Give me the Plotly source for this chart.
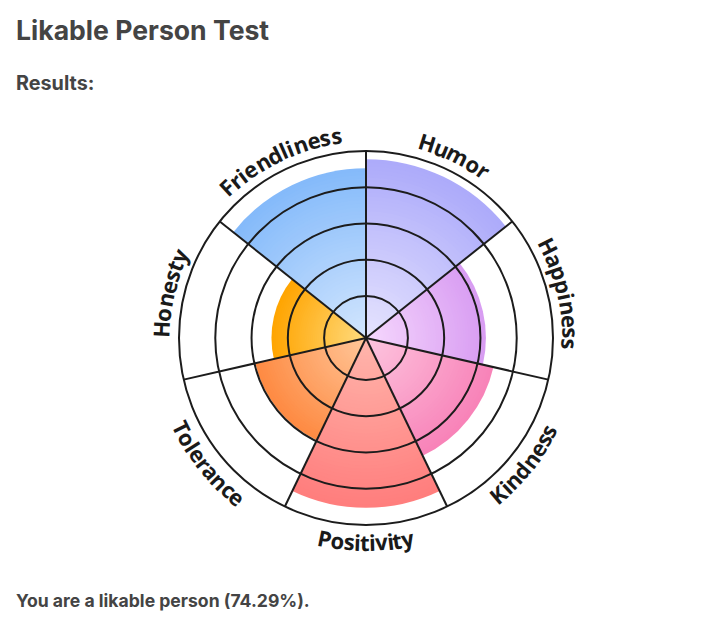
import math
import plotly.graph_objects as go

# ---------------- data ----------------
categories = ["Humor", "Happiness", "Kindness", "Positivity", "Tolerance", "Honesty", "Friendliness"]
scores = [95.5, 63, 69, 90.5, 59.5, 49, 90.5]
ring_ticks = [20, 40, 60, 80]
title_text = "Likable Person Test"
subtitle_text = "Results:"
result_text = "You are a likable person (74.29%)."

# ---------------- style ----------------
outer_colors = ["#acaafa", "#d89cf2", "#f882b8", "#ff7d7d", "#fe8a42", "#ffa400", "#84bafa"]
inner_colors = ["#e6e4fe", "#f6d8fd", "#fdc6df", "#ffb6ac", "#ffc79a", "#ffdb7e", "#d3e6fe"]
GRID = "#1c1c1c"
W, H = 702, 621
CX, CY, RAD = 366, 338, 187
R_MIN, R_MAX = -3.1, 100
N_STEPS = 48

n = len(categories)
step = 360.0 / n
centers = [step * (i + 0.5) for i in range(n)]
bounds = [step * i for i in range(n)]


def hex2rgb(h):
    h = h.lstrip("#")
    return [int(h[i:i + 2], 16) for i in (0, 2, 4)]


def mix(c1, c2, t):
    a, b = hex2rgb(c1), hex2rgb(c2)
    return "rgb(%d,%d,%d)" % tuple(round(a[i] + (b[i] - a[i]) * t) for i in range(3))


fig = go.Figure()

# gradient bars: overlaid wedges, largest first
for k in range(N_STEPS):
    frac = 1 - k / N_STEPS
    t = max(0.0, frac - 0.5 / N_STEPS)
    cols = [mix(inner_colors[i], outer_colors[i], t) for i in range(n)]
    fig.add_trace(go.Barpolar(
        r=[(s - R_MIN) * frac for s in scores],
        base=R_MIN,
        theta=centers,
        width=[step] * n,
        marker=dict(color=cols, line=dict(width=0)),
        subplot="polar",
        hoverinfo="skip",
        showlegend=False,
    ))

# invisible trace so the grid overlay subplot is drawn
fig.add_trace(go.Scatterpolar(r=[R_MIN], theta=[0], mode="markers",
                              marker=dict(opacity=0), subplot="polar2",
                              hoverinfo="skip", showlegend=False))

dom_x = [(CX - RAD) / W, (CX + RAD) / W]
dom_y = [(H - CY - RAD) / H, (H - CY + RAD) / H]

hidden_radial = dict(range=[R_MIN, R_MAX], showgrid=False, showline=False,
                     showticklabels=False, ticks="")
fig.update_layout(
    width=W, height=H,
    margin=dict(l=0, r=0, t=0, b=0),
    paper_bgcolor="white",
    showlegend=False,
    polar=dict(
        domain=dict(x=dom_x, y=dom_y),
        bgcolor="white",
        barmode="overlay",
        radialaxis=hidden_radial,
        angularaxis=dict(direction="clockwise", rotation=90, showgrid=False,
                         showline=False, showticklabels=False, ticks=""),
    ),
    polar2=dict(
        domain=dict(x=dom_x, y=dom_y),
        bgcolor="rgba(0,0,0,0)",
        radialaxis=dict(range=[R_MIN, R_MAX], tickvals=ring_ticks, showticklabels=False,
                        ticks="", showline=False, showgrid=True, gridcolor=GRID, gridwidth=2),
        angularaxis=dict(direction="clockwise", rotation=90, tickvals=bounds,
                         showticklabels=False, ticks="", showgrid=True, gridcolor=GRID,
                         gridwidth=2, showline=True, linecolor=GRID, linewidth=2),
    ),
)

# curved category labels, one annotation per glyph
ADV = {"F": 0.575, "H": 0.732, "K": 0.672, "P": 0.617, "T": 0.565, "a": 0.597, "c": 0.508,
       "d": 0.635, "e": 0.580, "i": 0.286, "l": 0.286, "m": 0.952, "n": 0.635, "o": 0.604,
       "p": 0.635, "r": 0.422, "s": 0.489, "t": 0.411, "u": 0.635, "v": 0.554, "y": 0.554}
FS = 22


def place_label(text, th_c):
    top = math.cos(math.radians(th_c)) > 0
    advs = [ADV.get(ch, 0.55) * FS for ch in text]
    total = sum(advs)
    r_base = 197 if top else 212
    r_pos = 205 if top else 204
    pos = -total / 2
    for ch, a in zip(text, advs):
        s = pos + a / 2
        pos += a
        d = math.degrees(s / r_base)
        th = th_c + d if top else th_c - d
        x = CX + r_pos * math.sin(math.radians(th))
        y = CY - r_pos * math.cos(math.radians(th))
        ang = th if top else th - 180
        ang = ((ang + 180) % 360) - 180
        fig.add_annotation(x=x / W, y=1 - y / H, xref="paper", yref="paper", text=ch,
                           textangle=ang, showarrow=False, xanchor="center", yanchor="middle",
                           font=dict(family="Open Sans", size=FS, color="#1a1a1a", weight=700))


for name, c in zip(categories, centers):
    place_label(name, c)

HEAD = "#444444"
fig.add_annotation(x=14 / W, y=1 - 30 / H, xref="paper", yref="paper", text=title_text,
                   showarrow=False, xanchor="left", yanchor="middle",
                   font=dict(family="Inter", size=26.6, color=HEAD, weight=700))
fig.add_annotation(x=14 / W, y=1 - 82.5 / H, xref="paper", yref="paper", text=subtitle_text,
                   showarrow=False, xanchor="left", yanchor="middle",
                   font=dict(family="Inter", size=19.8, color=HEAD, weight=700))
fig.add_annotation(x=14 / W, y=1 - 600 / H, xref="paper", yref="paper", text=result_text,
                   showarrow=False, xanchor="left", yanchor="middle",
                   font=dict(family="Inter", size=17.6, color=HEAD, weight=700))

fig.write_html("out.html")
